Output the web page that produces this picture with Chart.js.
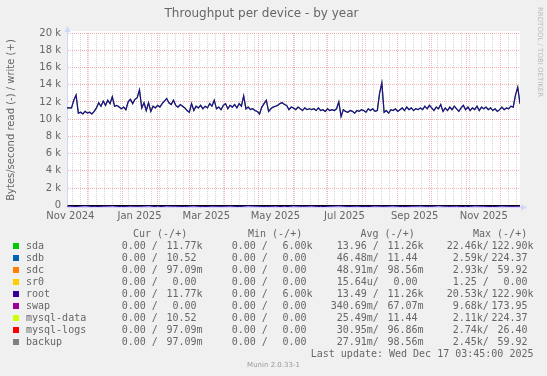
<!DOCTYPE html>
<html>
<head>
<meta charset="utf-8">
<script src="https://cdn.jsdelivr.net/npm/chart.js@4.4.1/dist/chart.umd.min.js"></script>
<style>
  html, body { margin: 0; padding: 0; background: #f0f0f0; }
  #wrap { position: relative; width: 547px; height: 376px; overflow: hidden; }
  #chart { position: absolute; left: 0; top: 0; }
  .txt { position: absolute; font-family: "DejaVu Sans Mono", monospace; font-size: 10px;
         line-height: 12px; color: #666; white-space: pre; }
  .box { position: absolute; width: 6px; height: 6px; }
  #rrd { position: absolute; left: 536px; top: 7px; writing-mode: vertical-rl;
         font-family: "DejaVu Sans", sans-serif; font-size: 7px; color: #bbb; white-space: nowrap; }
  #ver { position: absolute; left: 0; width: 547px; top: 361px; text-align: center;
         font-family: "DejaVu Sans", sans-serif; font-size: 7px; color: #999; }
</style>
</head>
<body>
<div id="wrap">
  <canvas id="chart" width="547" height="376"></canvas>
  <div id="rrd">RRDTOOL / TOBI OETIKER</div>
  <div id="ver">Munin 2.0.33-1</div>
</div>
<script>
// === Data (values in k bytes/s, one point every 2 days from 13 Nov 2024) ===
const startDate = new Date(2024, 10, 13);
const totalDays = 400;
const stepDays = 2;

const writeRoot = [
  11.3, 11.3, 11.3, 12.2, 12.8, 10.7, 10.8, 10.6, 10.9, 10.7,
  10.8, 10.6, 10.9, 11.3, 11.9, 11.5, 12.1, 11.6, 12.2, 11.8,
  12.6, 11.5, 11.6, 11.4, 11.2, 11.4, 11.1, 12.0, 12.3, 11.8,
  12.3, 12.5, 13.4, 11.3, 11.9, 11.0, 11.9, 10.9, 11.5, 11.3,
  11.6, 11.4, 11.8, 12.1, 12.4, 11.9, 11.7, 12.2, 11.6, 11.4,
  11.7, 11.5, 11.3, 11.0, 10.8, 11.8, 11.0, 11.5, 11.3, 11.6,
  11.2, 11.5, 11.3, 11.8, 11.5, 12.2, 11.2, 11.4, 11.1, 11.6,
  11.8, 11.2, 11.6, 11.4, 11.7, 11.3, 11.8, 11.5, 12.7, 11.2,
  11.4, 11.1, 11.2, 11.0, 10.9, 10.6, 11.4, 11.8, 12.2, 10.9,
  11.2, 11.4, 11.5, 11.6, 11.8, 11.9, 11.7, 11.6, 11.1, 11.4,
  11.3, 11.1, 11.4, 11.2, 11.0, 11.3, 11.1, 11.2, 11.1, 11.2,
  11.0, 11.3, 11.0, 11.1, 10.9, 11.2, 11.0, 11.1, 11.0, 11.2,
  12.0, 10.3, 11.1, 10.9, 10.8, 11.0, 10.9, 10.7, 11.0, 10.9,
  11.1, 11.0, 10.8, 11.2, 11.0, 11.2, 10.9, 11.0, 13.0, 14.2,
  10.8, 11.0, 10.7, 11.1, 11.0, 11.2, 10.9, 11.1, 11.3, 11.0,
  11.4, 11.1, 11.3, 11.0, 11.2, 11.1, 11.3, 11.1, 11.5, 11.2,
  11.6, 11.3, 11.0, 11.4, 11.2, 11.7, 10.9, 11.3, 11.0, 11.4,
  11.1, 11.5, 11.2, 10.9, 11.3, 11.6, 11.1, 11.4, 11.0, 11.3,
  11.1, 11.5, 11.0, 11.4, 11.2, 11.4, 11.1, 11.3, 11.0, 11.2,
  10.9, 11.1, 11.4, 11.1, 11.3, 11.2, 11.5, 11.4, 12.8, 13.7,
  11.8
];

// reads are tiny at this scale, one point every 8 days
const readStepDays = 8;
const readRoot = [
  -0.10, -0.14, -0.08, -0.16, -0.12, -0.09, -0.15, -0.11, -0.13, -0.08,
  -0.17, -0.10, -0.12, -0.14, -0.09, -0.16, -0.11, -0.13, -0.10, -0.15,
  -0.08, -0.12, -0.14, -0.11, -0.17, -0.09, -0.13, -0.10, -0.15, -0.12,
  -0.08, -0.14, -0.11, -0.16, -0.10, -0.13, -0.09, -0.15, -0.12, -0.10,
  -0.14, -0.08, -0.13, -0.11, -0.16, -0.09, -0.12, -0.15, -0.10, -0.13,
  -0.11
];

const monthLabels = ["Nov 2024", "Jan 2025", "Mar 2025", "May 2025", "Jul 2025", "Sep 2025", "Nov 2025"];
const yTicks = [0, 1, 2, 3, 4, 5, 6, 7, 8, 9, 10, 11, 12, 13, 14, 15, 16, 17, 18, 19, 20];

// === Legend ===
const names  = ["sda", "sdb", "sdc", "sr0", "root", "swap", "mysql-data", "mysql-logs", "backup"];
const colors = ["#00cc00", "#0066b3", "#ff8000", "#ffcc00", "#330099", "#990099", "#ccff00", "#ff0000", "#808080"];
const curRead  = ["  0.00 /", "  0.00 /", "  0.00 /", "  0.00 /", "  0.00 /", "  0.00 /", "  0.00 /", "  0.00 /", "  0.00 /"];
const curWrite = [" 11.77k", " 10.52", " 97.09m", "  0.00", " 11.77k", "  0.00", " 10.52", " 97.09m", " 97.09m"];
const minRead  = ["  0.00 /", "  0.00 /", "  0.00 /", "  0.00 /", "  0.00 /", "  0.00 /", "  0.00 /", "  0.00 /", "  0.00 /"];
const minWrite = ["  6.00k", "  0.00", "  0.00", "  0.00", "  6.00k", "  0.00", "  0.00", "  0.00", "  0.00"];
const avgRead  = [" 13.96 /", " 46.48m/", " 48.91m/", " 15.64u/", " 13.49 /", "340.69m/", " 25.49m/", " 30.95m/", " 27.91m/"];
const avgWrite = [" 11.26k", " 11.44", " 98.56m", "  0.00", " 11.26k", " 67.07m", " 11.44", " 96.86m", " 98.56m"];
const maxRead  = [" 22.46k/", "  2.59k/", "  2.93k/", "  1.25 /", " 20.53k/", "  9.68k/", "  2.11k/", "  2.74k/", "  2.45k/"];
const maxWrite = ["122.90k", "224.37", " 59.92", "  0.00", "122.90k", "173.95", "224.37", " 26.40", " 59.92"];
const headers = ["Cur (-/+)", "Min (-/+)", "Avg (-/+)", "Max (-/+)"];
const lastUpdate = "Last update: Wed Dec 17 03:45:00 2025";

// === Helpers ===
const dayOf = d => Math.round((d - startDate) / 86400000);

const monthDays = [];
for (let m = 11; m <= 23; m++) monthDays.push(dayOf(new Date(2024, m, 1)));
const weekDays = [];
for (let d = 5; d <= totalDays; d += 7) weekDays.push(d);
const gridDays = weekDays.filter(d => !monthDays.includes(d)).concat(monthDays).sort((a, b) => a - b);
const labelDays = [10, 12, 14, 16, 18, 20, 22].map(m => dayOf(new Date(2024, m, 16)));

const toPoints = (arr, step) => arr.map((v, i) => ({ x: i * step, y: v }));

const RED = "rgba(235,90,90,0.45)";
const GRAY = "rgba(185,185,185,0.6)";
const AXIS = "#cfd6f8";

const plotBg = {
  id: "plotBg",
  beforeDraw(chart) {
    const { ctx, chartArea: a } = chart;
    ctx.save();
    ctx.fillStyle = "#ffffff";
    ctx.fillRect(a.left, a.top - 2, a.right - a.left, a.bottom - a.top + 2);
    ctx.restore();
  },
  afterDraw(chart) {
    const { ctx, chartArea: a } = chart;
    ctx.save();
    ctx.fillStyle = AXIS;
    ctx.strokeStyle = AXIS;
    ctx.lineWidth = 1;
    ctx.beginPath();
    ctx.moveTo(a.left + 0.5, a.top); ctx.lineTo(a.left + 0.5, a.top - 3);
    ctx.moveTo(a.right, Math.round(a.bottom) + 0.5); ctx.lineTo(a.right + 3, Math.round(a.bottom) + 0.5);
    ctx.stroke();
    ctx.beginPath();
    ctx.moveTo(a.left + 0.5, a.top - 7); ctx.lineTo(a.left - 2.5, a.top - 1); ctx.lineTo(a.left + 3.5, a.top - 1);
    ctx.closePath(); ctx.fill();
    const by = Math.round(a.bottom) + 0.5;
    ctx.beginPath();
    ctx.moveTo(a.right + 7, by); ctx.lineTo(a.right + 1, by - 3); ctx.lineTo(a.right + 1, by + 3);
    ctx.closePath(); ctx.fill();
    ctx.restore();
  }
};

Chart.defaults.font.family = "'DejaVu Sans', sans-serif";
Chart.defaults.color = "#666";

new Chart(document.getElementById("chart").getContext("2d"), {
  type: "line",
  data: {
    datasets: [
      { label: "root", data: toPoints(writeRoot, stepDays), borderColor: "#330099", borderWidth: 1.2, pointRadius: 0, tension: 0 },
      { label: "sda", data: toPoints(writeRoot, stepDays), borderColor: "#00cc00", borderWidth: 1.2, pointRadius: 0, tension: 0 },
      { label: "root read", data: toPoints(readRoot, readStepDays), borderColor: "#330099", borderWidth: 1, pointRadius: 0, tension: 0 }
    ]
  },
  options: {
    responsive: false,
    animation: false,
    devicePixelRatio: 1,
    events: [],
    layout: { padding: { left: 3, right: 27, top: 0, bottom: 154 } },
    plugins: {
      legend: { display: false },
      tooltip: { enabled: false },
      title: {
        display: true,
        text: "Throughput per device - by year",
        font: { size: 12, weight: "normal" },
        color: "#666",
        padding: { top: 7, bottom: 11.6 }
      }
    },
    scales: {
      x: {
        type: "linear", min: 0, max: totalDays, position: "bottom",
        afterBuildTicks: s => { s.ticks = gridDays.map(d => ({ value: d })); },
        afterFit: s => { s.height = 0; },
        ticks: { display: false },
        grid: {
          drawTicks: false,
          color: c => monthDays.includes(c.tick.value) ? RED : GRAY
        },
        border: { display: true, color: AXIS, dash: c => (c.tick ? [1, 1] : []) }
      },
      x2: {
        type: "linear", min: 0, max: totalDays, position: "bottom",
        afterBuildTicks: s => { s.ticks = labelDays.map(d => ({ value: d })); },
        afterFit: s => { s.height = 15; },
        ticks: {
          autoSkip: false, maxRotation: 0, padding: 3,
          font: { size: 10 },
          callback: (v, i) => monthLabels[i]
        },
        grid: { display: false, drawTicks: false },
        border: { display: false }
      },
      y: {
        type: "linear", min: -0.2, max: 20,
        afterBuildTicks: s => { s.ticks = yTicks.map(v => ({ value: v })); },
        afterFit: s => { s.width = 64; },
        ticks: {
          padding: 6, font: { size: 10 },
          callback: v => v === 0 ? "0" : (v % 2 === 0 ? v + " k" : "")
        },
        grid: {
          drawTicks: false,
          color: c => c.tick.value === 0 ? "#000000" : (c.tick.value % 2 === 0 ? RED : GRAY)
        },
        border: { display: true, color: AXIS, dash: c => (c.tick && c.tick.value !== 0 ? [1, 1] : []) },
        title: {
          display: true,
          text: "Bytes/second read (-) / write (+)",
          font: { size: 10 },
          color: "#666",
          padding: { top: 2, bottom: 0 }
        }
      }
    }
  },
  plugins: [plotBg]
});

// === Legend text below the graph ===
const wrap = document.getElementById("wrap");
function addText(str, left, centerY) {
  const el = document.createElement("div");
  el.className = "txt";
  el.textContent = str;
  el.style.left = left + "px";
  el.style.top = (centerY - 6) + "px";
  wrap.appendChild(el);
  return el;
}
const colStart = [109.7, 219.7, 330.7, 440.7];
const headerX = [133, 248, 360.5, 473];
const readCols = [curRead, minRead, avgRead, maxRead];
const writeCols = [curWrite, minWrite, avgWrite, maxWrite];

headers.forEach((h, j) => addText(h, headerX[j], 233.5));
names.forEach((name, i) => {
  const cy = 245.5 + i * 12.1;
  const box = document.createElement("div");
  box.className = "box";
  box.style.left = "13px";
  box.style.top = (cy - 3) + "px";
  box.style.background = colors[i];
  wrap.appendChild(box);
  addText(name, 26, cy);
  colStart.forEach((x, j) => {
    addText(readCols[j][i], x, cy);
    addText(writeCols[j][i], x + 50.7, cy);
  });
});
const lu = addText(lastUpdate, 0, 353.5);
lu.style.left = "auto";
lu.style.right = "13.5px";
</script>
</body>
</html>
